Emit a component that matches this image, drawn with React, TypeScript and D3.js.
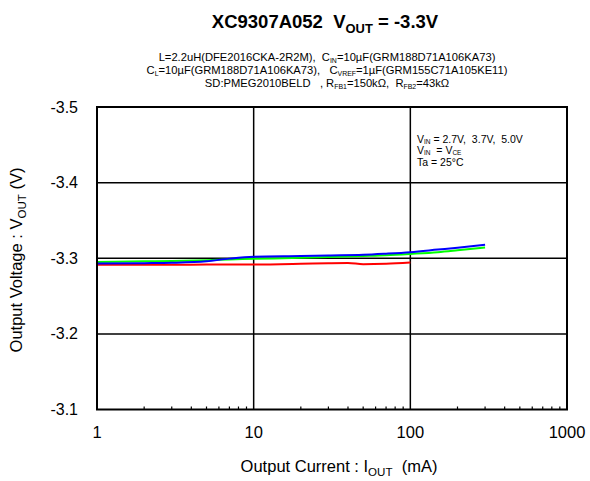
import React from 'react';
import * as d3 from 'd3';

const xTicks = [1, 10, 100, 1000];
const yTicks = [-3.5, -3.4, -3.3, -3.2, -3.1];

const currentsRed = [1, 2, 3, 5, 7, 10, 20, 30, 40, 50, 70, 100];
const voutRed = [-3.2914, -3.2915, -3.2915, -3.2916, -3.2917, -3.2917, -3.2926, -3.2934, -3.2937, -3.2922, -3.2928, -3.2945];

const currentsGreen = [1, 2, 3, 5, 7, 10, 20, 30, 50, 70, 100, 150, 200, 300];
const voutGreen = [-3.295, -3.296, -3.2965, -3.2975, -3.2985, -3.2993, -3.3005, -3.3016, -3.303, -3.304, -3.3057, -3.308, -3.3105, -3.3143];

const currentsBlue = [1, 2, 3, 5, 7, 10, 20, 30, 50, 70, 100, 150, 200, 300];
const voutBlue = [-3.293, -3.2935, -3.294, -3.296, -3.2995, -3.302, -3.303, -3.3037, -3.3045, -3.306, -3.308, -3.3115, -3.314, -3.318];

type Part = [string, boolean?];

const FONT = "'Liberation Sans', Arial, sans-serif";

function Rich({ x, y, parts, size, anchor = 'middle', weight = 'normal', subScale = 0.68, subDy = 0.25 }: {
  x: number; y: number; parts: Part[]; size: number; anchor?: string; weight?: string; subScale?: number; subDy?: number;
}) {
  const d = size * subDy;
  const out: React.ReactNode[] = [];
  let shifted = false;
  parts.forEach(([t, sub], i) => {
    let dy = 0;
    if (sub && !shifted) { dy = d; shifted = true; }
    else if (!sub && shifted) { dy = -d; shifted = false; }
    out.push(
      <tspan key={i} dy={dy} fontSize={sub ? size * subScale : size}>{t}</tspan>
    );
  });
  return (
    <text x={x} y={y} fontSize={size} textAnchor={anchor as any} fontWeight={weight} fontFamily={FONT} fill="#000" style={{ whiteSpace: 'pre' }}>
      {out}
    </text>
  );
}

export default function App() {
  const left = 97, right = 567, top = 107, bottom = 409.5;
  const x = d3.scaleLog().domain([1, 1000]).range([left, right]);
  const y = d3.scaleLinear().domain([-3.5, -3.1]).range([top, bottom]);

  const line = d3.line<[number, number]>()
    .x(d => x(d[0]))
    .y(d => y(d[1]))
    .curve(d3.curveMonotoneX);

  const minor: number[] = [];
  for (let dec = 1; dec < 1000; dec *= 10) {
    for (let k = 2; k <= 9; k++) minor.push(dec * k);
  }

  const series = [
    { xs: currentsRed, ys: voutRed, color: '#ff0000' },
    { xs: currentsGreen, ys: voutGreen, color: '#00ff00' },
    { xs: currentsBlue, ys: voutBlue, color: '#0000ff' },
  ];

  return (
    <svg width={590} height={481} style={{ position: 'absolute', left: 0, top: 0, background: '#fff' }}>
      <rect x={0} y={0} width={590} height={481} fill="#fff" />
      {/* Title */}
      <Rich x={325} y={28} size={18.5} weight="bold" subScale={0.7} subDy={0.28}
        parts={[['XC9307A052  V'], ['OUT', true], [' = -3.3V']]} />
      {/* Subtitles */}
      <Rich x={327} y={61} size={11.2} subScale={0.62} subDy={0.18}
        parts={[['L=2.2uH(DFE2016CKA-2R2M),  C'], ['IN', true], ['=10µF(GRM188D71A106KA73)']]} />
      <Rich x={327} y={74} size={11.2} subScale={0.62} subDy={0.18}
        parts={[['C'], ['L', true], ['=10µF(GRM188D71A106KA73),   C'], ['VREF', true], ['=1µF(GRM155C71A105KE11)']]} />
      <Rich x={327} y={87} size={11.2} subScale={0.62} subDy={0.18}
        parts={[['SD:PMEG2010BELD   , R'], ['FB1', true], ['=150kΩ,  R'], ['FB2', true], ['=43kΩ']]} />

      {/* Grid */}
      {xTicks.slice(1, -1).map(t => (
        <line key={'gx' + t} x1={x(t)} x2={x(t)} y1={top} y2={bottom} stroke="#000" strokeWidth={1.5} />
      ))}
      {yTicks.slice(1, -1).map(t => (
        <line key={'gy' + t} x1={left} x2={right} y1={y(t)} y2={y(t)} stroke="#000" strokeWidth={1.5} />
      ))}
      {/* Minor ticks */}
      {minor.map(t => (
        <line key={'m' + t} x1={x(t)} x2={x(t)} y1={bottom} y2={bottom - 3} stroke="#000" strokeWidth={1.2} />
      ))}

      {/* Data */}
      {series.map((s, i) => (
        <path key={i} d={line(s.xs.map((v, j) => [v, s.ys[j]] as [number, number])) || ''}
          fill="none" stroke={s.color} strokeWidth={2} />
      ))}

      {/* Frame */}
      <rect x={left} y={top} width={right - left} height={bottom - top} fill="none" stroke="#000" strokeWidth={2} />

      {/* Y tick labels */}
      {yTicks.map(t => (
        <text key={'yl' + t} x={78} y={y(t) + 5.5} fontSize={16} textAnchor="end" fontFamily={FONT}>{t.toFixed(1)}</text>
      ))}
      {/* X tick labels */}
      {xTicks.map(t => (
        <text key={'xl' + t} x={x(t)} y={438} fontSize={16.5} textAnchor="middle" fontFamily={FONT}>{String(t)}</text>
      ))}

      {/* Axis titles */}
      <Rich x={339} y={472} size={16.5} subScale={0.7} subDy={0.25}
        parts={[['Output Current : I'], ['OUT', true], ['  (mA)']]} />
      <g transform="translate(22,260) rotate(-90)">
        <Rich x={0} y={0} size={16.5} subScale={0.7} subDy={0.25}
          parts={[['Output Voltage : V'], ['OUT', true], [' (V)']]} />
      </g>

      {/* Legend */}
      <Rich x={417} y={143} size={10.5} anchor="start" subScale={0.62} subDy={0.08}
        parts={[['V'], ['IN', true], [' = 2.7V,  3.7V,  5.0V']]} />
      <Rich x={417} y={154} size={10.5} anchor="start" subScale={0.62} subDy={0.08}
        parts={[['V'], ['IN', true], ['  = V'], ['CE', true]]} />
      <Rich x={417} y={166} size={10.5} anchor="start"
        parts={[['Ta = 25°C']]} />
    </svg>
  );
}
